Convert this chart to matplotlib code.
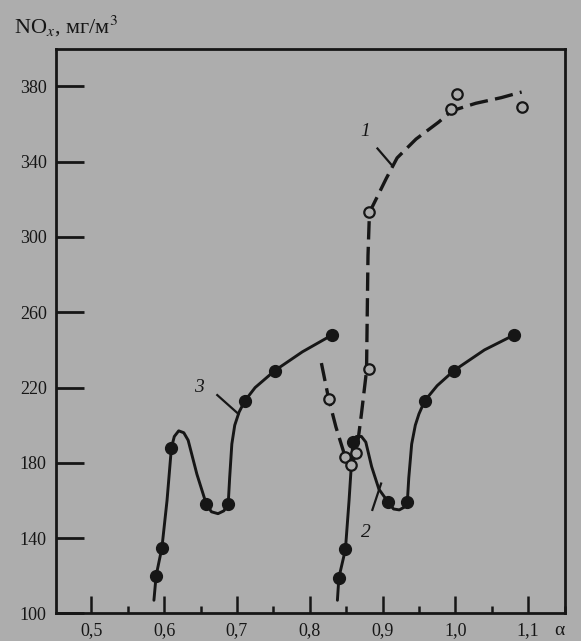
import numpy as np
import matplotlib
matplotlib.use("Agg")
import matplotlib.pyplot as plt
from matplotlib.ticker import MultipleLocator, FuncFormatter

# ── values ───────────────────────────────────────────────────────────────────

# curve 3 (left branch, solid, filled points)
c3_x = [0.586, 0.589, 0.597, 0.604, 0.610, 0.614, 0.620, 0.627, 0.633, 0.645, 0.658,
        0.665, 0.674, 0.682, 0.688, 0.690, 0.693, 0.697, 0.703, 0.711, 0.725, 0.740,
        0.752, 0.790, 0.831]
c3_y = [107, 120, 135, 160, 188, 194, 197, 196, 192, 174, 158,
        154, 153, 154.5, 158, 172, 190, 200, 207, 213, 220, 225,
        229, 239, 248]
p3_x = [0.589, 0.597, 0.610, 0.658, 0.688, 0.711, 0.752, 0.831]
p3_y = [120, 135, 188, 158, 158, 213, 229, 248]

# curve 2 (right branch, solid, filled points)
c2_x = [0.838, 0.840, 0.849, 0.854, 0.859, 0.864, 0.871, 0.877, 0.885, 0.895, 0.908,
        0.915, 0.923, 0.930, 0.934, 0.936, 0.940, 0.945, 0.950, 0.958, 0.975, 0.998,
        1.040, 1.081]
c2_y = [107, 119, 134, 160, 190, 194, 194, 191, 178, 166, 159,
        155.5, 155, 156.5, 159, 172, 190, 200, 206, 213, 221, 229,
        240, 248]
p2_x = [0.840, 0.849, 0.859, 0.908, 0.934, 0.958, 0.998, 1.081]
p2_y = [119, 134, 191, 159, 159, 213, 229, 248]

# curve 1 (dashed, open points)
c1_x = [0.816, 0.826, 0.836, 0.848, 0.857, 0.864, 0.871, 0.878, 0.879, 0.880, 0.882,
        0.891, 0.905, 0.920, 0.946, 0.977, 0.995, 1.028, 1.063, 1.091]
c1_y = [233, 214, 199, 184, 179, 185, 206, 229, 260, 290, 313,
        320, 331, 342, 352, 361, 367, 371, 374, 377]
p1_x = [0.826, 0.848, 0.857, 0.864, 0.881, 0.882, 0.994, 1.002, 1.092]
p1_y = [214, 183, 179, 185, 230, 313, 368, 376, 369]

# curve labels: text, text position, leader start, leader end
lbl_txt = ["1", "2", "3"]
lbl_pos = [(0.876, 356), (0.877, 143), (0.648, 220)]
lbl_from = [(0.893, 347), (0.886, 155), (0.673, 216)]
lbl_to = [(0.913, 338), (0.898, 169), (0.702, 206)]

y_ticks = [100, 140, 180, 220, 260, 300, 340, 380]

# ── figure ───────────────────────────────────────────────────────────────────

PAPER = "#adadad"
INK = "#161616"

plt.rcParams["font.family"] = ["Liberation Serif", "DejaVu Serif"]
plt.rcParams["mathtext.fontset"] = "stix"

fig = plt.figure(figsize=(5.81, 6.41), dpi=100)
fig.patch.set_facecolor(PAPER)
ax = fig.add_axes([0.097, 0.043, 0.876, 0.881])
ax.set_facecolor(PAPER)

ax.plot(c3_x, c3_y, color=INK, lw=2.1, solid_capstyle="round", zorder=3)
ax.plot(c2_x, c2_y, color=INK, lw=2.1, solid_capstyle="round", zorder=3)
ax.plot(c1_x, c1_y, color=INK, lw=2.4, dashes=(5.5, 2.2), zorder=3)

ax.plot(p3_x, p3_y, "o", ms=8.5, color=INK, zorder=5)
ax.plot(p2_x, p2_y, "o", ms=8.5, color=INK, zorder=5)
ax.plot(p1_x, p1_y, "o", ms=7.5, mfc=PAPER, mec=INK, mew=1.6, zorder=6)

for t, pos, a, b in zip(lbl_txt, lbl_pos, lbl_from, lbl_to):
    ax.text(pos[0], pos[1], t, fontsize=14, style="italic", color=INK,
            ha="center", va="center", zorder=6)
    ax.plot([a[0], b[0]], [a[1], b[1]], color=INK, lw=1.6, zorder=4)

ax.set_xlim(0.452, 1.151)
ax.set_ylim(100, 400)

ax.xaxis.set_major_locator(MultipleLocator(0.1))
ax.xaxis.set_minor_locator(MultipleLocator(0.05))
ax.xaxis.set_major_formatter(FuncFormatter(lambda v, p: f"{v:.1f}".replace(".", ",")))
ax.set_yticks(y_ticks)

ax.tick_params(axis="x", which="major", direction="in", length=12, width=1.8,
               colors=INK, labelsize=13, pad=6)
ax.tick_params(axis="x", which="minor", direction="in", length=5, width=1.8, colors=INK)
ax.tick_params(axis="y", direction="in", length=20, width=2.0,
               colors=INK, labelsize=13, pad=7)

for s in ax.spines.values():
    s.set_linewidth(2.0)
    s.set_color(INK)

ax.text(1.143, -0.031, "α", transform=ax.get_xaxis_transform(), fontsize=14,
        color=INK, ha="center", va="center")

fig.text(0.024, 0.958, "NO$_x$, мг/м$^3$", fontsize=16, color=INK, ha="left", va="center")

plt.savefig("out.png", dpi=100, facecolor=fig.get_facecolor())
plt.close()
